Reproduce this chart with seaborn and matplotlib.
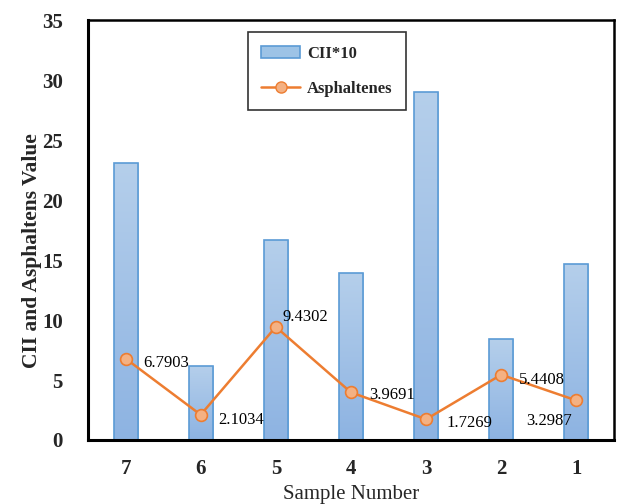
import matplotlib
matplotlib.use("Agg")
import matplotlib.pyplot as plt
import seaborn as sns
import numpy as np
import pandas as pd
from matplotlib.patches import Patch
from matplotlib.lines import Line2D
from matplotlib.colors import LinearSegmentedColormap

samples = ["7", "6", "5", "4", "3", "2", "1"]
cii_x10 = [23.1, 6.2, 16.7, 13.9, 29.0, 8.4, 14.7]
asphaltenes = [6.7903, 2.1034, 9.4302, 3.9691, 1.7269, 5.4408, 3.2987]
label_text = ["6.7903", "2.1034", "9.4302", "3.9691", "1.7269", "5.4408", "3.2987"]
yticks = [0, 5, 10, 15, 20, 25, 30, 35]

df = pd.DataFrame({"Sample": samples, "CII": cii_x10, "Asph": asphaltenes})

sns.set_theme(style="white")
plt.rcParams["font.family"] = ["Liberation Serif", "DejaVu Serif"]

fig = plt.figure(figsize=(6.17, 5.04), dpi=100)
ax = fig.add_axes([0.1426, 0.127, 0.8524, 0.833])

sns.barplot(data=df, x="Sample", y="CII", order=samples, ax=ax,
            width=0.32, color="#9dc3e6", edgecolor="#5b9bd5", linewidth=1.2, zorder=2)

# gradient fill clipped to each bar
cmap = LinearSegmentedColormap.from_list("g", ["#8db3e2", "#b5cfeb"])
grad = np.linspace(0, 1, 256).reshape(-1, 1)
for p in ax.patches:
    x0, y0 = p.get_x(), p.get_y()
    w, h = p.get_width(), p.get_height()
    im = ax.imshow(grad, extent=[x0, x0 + w, y0, y0 + h], origin="lower",
                   cmap=cmap, aspect="auto", zorder=2.1)
    im.set_clip_path(p)
    p.set_facecolor("none")
    p.set_zorder(2.2)

xpos = np.arange(len(samples))
ax.plot(xpos, asphaltenes, color="#ed7d31", lw=1.8, marker="o", ms=8.5,
        mfc="#f4b183", mec="#ed7d31", mew=1.2, zorder=3)

offsets = [(12.5, -3), (13, -4), (4.5, 7), (13, -2), (14.5, -3), (13, -3.5), (-36, -15)]
for i, (t, off) in enumerate(zip(label_text, offsets)):
    ax.annotate(t, (xpos[i], asphaltenes[i]), xytext=off, textcoords="offset points",
                ha="left", va="center", fontsize=12, color="black", zorder=4)

ax.set_xlim(-0.5, len(samples) - 0.5)
ax.set_ylim(0, 35)
ax.set_yticks(yticks)
ax.set_yticklabels([str(v) for v in yticks], fontsize=15, fontweight="bold")
ax.set_xticks(xpos)
ax.set_xticklabels(samples, fontsize=15, fontweight="bold")
ax.tick_params(axis="x", length=0, pad=14)
ax.tick_params(axis="y", length=0, pad=18)
ax.set_xlabel("Sample Number", fontsize=15, labelpad=4)
ax.set_ylabel("CII and Asphaltens Value", fontsize=15.5, fontweight="bold")
ax.yaxis.set_label_coords(-0.087, 0.45)

for s in ["left", "bottom"]:
    ax.spines[s].set_linewidth(2.2)
    ax.spines[s].set_color("black")
for s in ["top", "right"]:
    ax.spines[s].set_linewidth(1.8)
    ax.spines[s].set_color("black")

handles = [Patch(facecolor="#9dc3e6", edgecolor="#5b9bd5", linewidth=1.2),
           Line2D([0], [0], color="#ed7d31", lw=1.8, marker="o", ms=8,
                  mfc="#f4b183", mec="#ed7d31")]
leg = ax.legend(handles, ["CII*10", "Asphaltenes"], loc="upper left",
                bbox_to_anchor=(0.304, 0.971), borderaxespad=0, frameon=True,
                fancybox=False, edgecolor="black", labelspacing=1.15,
                prop={"weight": "bold", "size": 12}, handlelength=2.35,
                borderpad=0.8, handletextpad=0.4)
leg.get_frame().set_linewidth(1.2)

fig.savefig("out.png", dpi=100)
